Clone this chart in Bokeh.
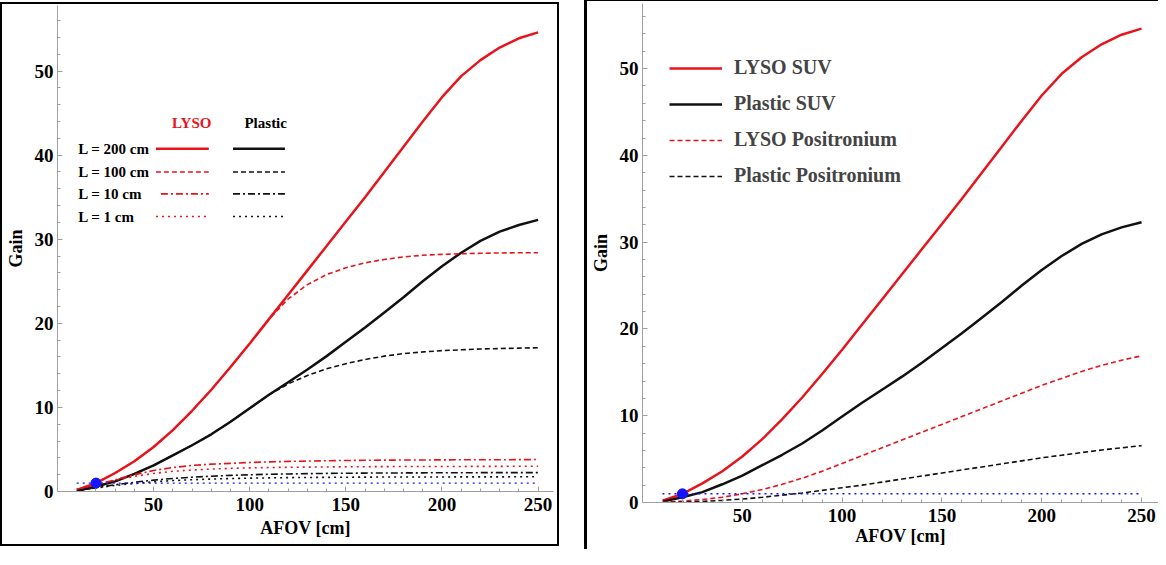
from bokeh.plotting import figure
from bokeh.models import FixedTicker, Range1d, Legend, LegendItem
from bokeh.layouts import row, column
from bokeh.core.properties import value
from bokeh.embed import file_html
from bokeh.resources import INLINE

# ---------------- data ----------------
afov = [10, 20, 30, 40, 50, 60, 70, 80, 90, 100, 110, 120, 130, 140, 150,
        160, 170, 180, 190, 200, 210, 220, 230, 240, 250]

lyso_200 = [0.2, 1.0, 2.2, 3.6, 5.3, 7.3, 9.6, 12.1, 14.8, 17.6, 20.5, 23.4, 26.3,
            29.2, 32.1, 35.0, 38.0, 41.0, 44.0, 46.9, 49.4, 51.3, 52.8, 53.9, 54.6]
plastic_200 = [0.1, 0.6, 1.2, 2.1, 3.1, 4.3, 5.5, 6.8, 8.3, 9.9, 11.5, 13.0, 14.5,
               16.1, 17.8, 19.5, 21.3, 23.1, 25.0, 26.8, 28.4, 29.8, 30.9, 31.7, 32.3]
lyso_100 = [0.2, 1.0, 2.2, 3.6, 5.3, 7.3, 9.6, 12.1, 14.8, 17.6, 20.5, 22.9, 24.6,
            25.8, 26.6, 27.2, 27.6, 27.9, 28.1, 28.2, 28.28, 28.33, 28.37, 28.4, 28.4]
plastic_100 = [0.1, 0.6, 1.2, 2.1, 3.1, 4.3, 5.5, 6.8, 8.3, 9.9, 11.5, 12.8, 13.8,
               14.6, 15.2, 15.7, 16.1, 16.4, 16.6, 16.75, 16.85, 16.95, 17.0, 17.05, 17.1]
lyso_10 = [0.2, 0.8, 1.4, 2.0, 2.5, 2.85, 3.1, 3.25, 3.35, 3.45, 3.52, 3.58, 3.62,
           3.66, 3.69, 3.71, 3.73, 3.74, 3.75, 3.76, 3.77, 3.78, 3.78, 3.79, 3.8]
plastic_10 = [0.1, 0.45, 0.8, 1.1, 1.35, 1.55, 1.7, 1.82, 1.92, 1.99, 2.05, 2.09, 2.12,
              2.15, 2.17, 2.19, 2.2, 2.21, 2.22, 2.23, 2.23, 2.24, 2.24, 2.25, 2.25]
lyso_1 = [0.2, 0.8, 1.35, 1.8, 2.15, 2.4, 2.55, 2.67, 2.75, 2.81, 2.85, 2.88, 2.9,
          2.92, 2.94, 2.95, 2.96, 2.97, 2.97, 2.98, 2.98, 2.99, 2.99, 3.0, 3.0]
plastic_1 = [0.1, 0.42, 0.72, 0.95, 1.15, 1.3, 1.4, 1.48, 1.54, 1.59, 1.62, 1.65, 1.67,
             1.68, 1.7, 1.71, 1.72, 1.72, 1.73, 1.73, 1.74, 1.74, 1.74, 1.75, 1.75]

lyso_pos = [0.05, 0.15, 0.35, 0.6, 1.0, 1.5, 2.1, 2.8, 3.6, 4.5, 5.4, 6.3, 7.2,
            8.1, 9.0, 9.9, 10.8, 11.7, 12.6, 13.5, 14.3, 15.1, 15.8, 16.4, 16.9]
plastic_pos = [0.0, 0.05, 0.12, 0.25, 0.4, 0.6, 0.85, 1.1, 1.4, 1.7, 2.0, 2.35, 2.7,
               3.05, 3.4, 3.75, 4.1, 4.45, 4.8, 5.15, 5.45, 5.75, 6.05, 6.3, 6.55]

baseline_gain = [1.0] * len(afov)
ref_afov = [20]
ref_gain = [1.0]

x_major = [50, 100, 150, 200, 250]
x_minor = list(range(10, 260, 10))
y_major = [0, 10, 20, 30, 40, 50]
y_minor = list(range(2, 58, 2))

size_labels = ["L = 200 cm", "L = 100 cm", "L = 10 cm", "L = 1 cm"]
right_labels = ["LYSO SUV", "Plastic SUV", "LYSO Positronium", "Plastic Positronium"]

# ---------------- style ----------------
RED = "#e8141c"
BLACK = "#111111"
BLUE = "#1414ff"
AX = "#a0a0a0"
FONT = "Liberation Serif"


def style_axes(p, lab_standoff, axlab_standoff):
    p.xaxis.ticker = FixedTicker(ticks=x_major, minor_ticks=x_minor)
    p.yaxis.ticker = FixedTicker(ticks=y_major, minor_ticks=y_minor)
    for ax in (p.xaxis[0], p.yaxis[0]):
        ax.axis_line_color = AX
        ax.major_tick_line_color = AX
        ax.minor_tick_line_color = AX
        ax.major_tick_in = 5
        ax.major_tick_out = 0
        ax.minor_tick_in = 3
        ax.minor_tick_out = 0
        ax.major_label_text_font = FONT
        ax.major_label_text_font_style = "bold"
        ax.major_label_text_font_size = "19px"
        ax.major_label_text_color = "black"
        ax.axis_label_text_font = FONT
        ax.axis_label_text_font_style = "bold"
        ax.axis_label_text_font_size = "18px"
        ax.axis_label_text_color = "black"
    p.xaxis.axis_label = "AFOV [cm]"
    p.yaxis.axis_label = "Gain"
    p.xaxis.major_label_standoff = lab_standoff
    p.xaxis.axis_label_standoff = axlab_standoff
    p.yaxis.major_label_standoff = 4
    p.yaxis.axis_label_standoff = 6
    p.xgrid.visible = False
    p.ygrid.visible = False
    p.outline_line_color = None


# ---------------- left panel ----------------
left = figure(width=555, height=540, x_range=Range1d(0, 258), y_range=Range1d(0, 57.8),
              output_backend="svg", toolbar_location=None,
              min_border_left=51, min_border_right=4, min_border_top=1, min_border_bottom=53)
style_axes(left, 6, 4)

left.line(afov, lyso_200, color=RED, line_width=2.5)
left.line(afov, plastic_200, color=BLACK, line_width=2.5)
left.line(afov, lyso_100, color=RED, line_width=1.6, line_dash="5 3")
left.line(afov, plastic_100, color=BLACK, line_width=1.6, line_dash="5 3")
left.line(afov, lyso_10, color=RED, line_width=1.6, line_dash="7 3 2 3")
left.line(afov, plastic_10, color=BLACK, line_width=1.6, line_dash="7 3 2 3")
left.line(afov, lyso_1, color=RED, line_width=1.6, line_dash="2 4")
left.line(afov, plastic_1, color=BLACK, line_width=1.6, line_dash="2 4")
left.line(afov, baseline_gain, color=BLUE, line_width=1.4, line_dash="2 4")
left.scatter(ref_afov, ref_gain, size=10, color=BLUE)

# left legend (layout positions in data units)
hdr_y = 43.85
left.text(x=[69.8], y=[hdr_y], text=["LYSO"], text_font=value(FONT), text_font_style="bold",
          text_font_size="15px", text_color=RED, text_align="center", text_baseline="middle")
left.text(x=[108.3], y=[hdr_y], text=["Plastic"], text_font=value(FONT), text_font_style="bold",
          text_font_size="15px", text_color="black", text_align="center", text_baseline="middle")
row_y = [40.76, 37.99, 35.4, 32.7]
left.text(x=[10.8] * 4, y=row_y, text=size_labels, text_font=value(FONT), text_font_style="bold",
          text_font_size="15px", text_color="black", text_align="left", text_baseline="middle")
dashes = ["solid", "5 3", "7 3 2 3", "2 4"]
widths = [2.5, 1.6, 1.6, 1.6]
red_x0 = [51.2, 51.2, 53.8, 51.2]
for yy, dsh, w, x0 in zip(row_y, dashes, widths, red_x0):
    left.line([x0, 78.7], [yy, yy], color=RED, line_width=w, line_dash=dsh)
    left.line([91.3, 118.3], [yy, yy], color=BLACK, line_width=w, line_dash=dsh)

# ---------------- right panel ----------------
right = figure(width=571, height=548, x_range=Range1d(0, 258.5), y_range=Range1d(0, 57.5),
               output_backend="svg", toolbar_location=None,
               min_border_left=53, min_border_right=0, min_border_top=2, min_border_bottom=47)
style_axes(right, 6, 1)

r1 = right.line(afov, lyso_200, color=RED, line_width=2.5)
r2 = right.line(afov, plastic_200, color=BLACK, line_width=2.5)
r3 = right.line(afov, lyso_pos, color=RED, line_width=1.6, line_dash="5 3")
r4 = right.line(afov, plastic_pos, color=BLACK, line_width=1.6, line_dash="5 3")
right.line(afov, baseline_gain, color=BLUE, line_width=1.4, line_dash="2 4")
right.scatter(ref_afov, ref_gain, size=10, color=BLUE)

legend = Legend(items=[LegendItem(label=l, renderers=[r]) for l, r in zip(right_labels, [r1, r2, r3, r4])],
                location=(27, 315), orientation="vertical",
                label_text_font=FONT, label_text_font_style="bold", label_text_font_size="20px",
                glyph_width=53, glyph_height=20, label_height=20, spacing=13, label_standoff=12,
                padding=0, margin=0, border_line_alpha=0, background_fill_alpha=0)
right.add_layout(legend)

left_box = column(left, styles={"border": "2px solid black"}, margin=(2, 0, 0, 0))
right_box = column(right, styles={"border-left": "3px solid black", "border-top": "3px solid black"},
                   margin=(-2, 0, 0, 25))

layout = row(left_box, right_box, styles={"margin-bottom": "-30px"})
open("out.html", "w").write(file_html(layout, INLINE))
